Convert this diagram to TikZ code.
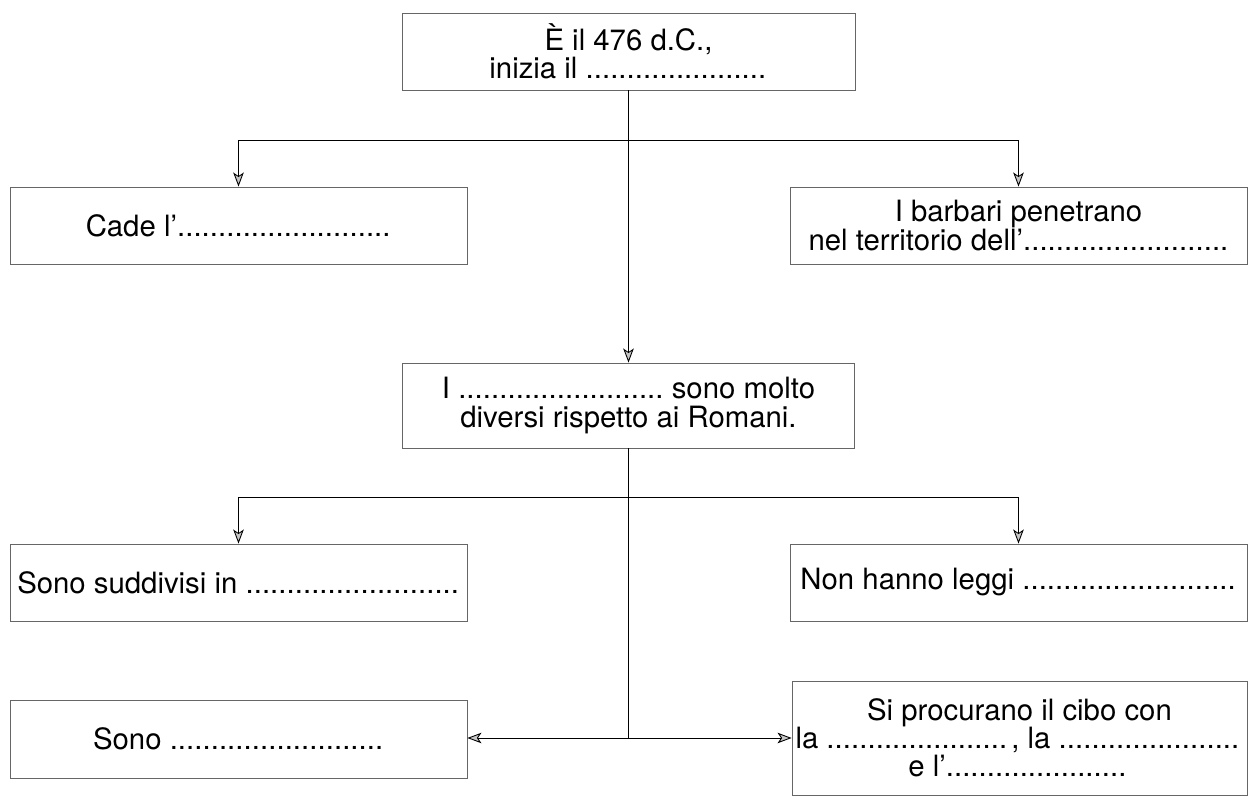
\documentclass[tikz,border=0pt]{standalone}
\usepackage{fontspec}
\setmainfont{TeX Gyre Heros}
\usetikzlibrary{arrows.meta}

% riga di puntini da completare
\newcommand{\puntini}[1][7em]{\makebox[#1]{\leaders\hbox to .28em{\hss.\hss}\hfill}}

\begin{document}
\begin{tikzpicture}[x=0.02cm, y=-0.02cm, line width=0.5pt,
    >={Stealth[length=8pt, width=6pt, inset=2pt, fill=gray!45]},
    casella/.style={draw=black!60, line width=0.5pt, minimum width=9.14cm,
      minimum height=1.54cm, inner sep=0pt, align=center,
      font=\fontsize{16.7}{16}\selectfont}]
    \useasboundingbox (0,0) rectangle (1249,797);

    % Caselle
    \node[casella, minimum width=9.06cm, font=\fontsize{16.7}{12.5}\selectfont] (anno) at (628.5,51.5)
      {È il 476 d.C.,\\ inizia il \puntini[6.2em]};
    \node[casella] (cade) at (238.5,225.5) {Cade l’\puntini[7.3em]};
    \node[casella] (barbari) at (1018.5,225.5) {I barbari penetrano\\ nel territorio dell’\puntini};
    \node[casella, minimum width=9.04cm, minimum height=1.7cm] (popoli) at (628.5,405.5)
      {I \puntini{} sono molto\\ diversi rispetto ai Romani.};
    \node[casella] (gruppi) at (238.5,582.5) {Sono suddivisi in \puntini[7.3em]};
    \node[casella] (leggi) at (1018.5,582.5) {Non hanno leggi \puntini[7.3em]};
    \node[casella, minimum height=1.56cm] (sono) at (238.5,739) {Sono \puntini[7.3em]};
    \node[casella, minimum width=9.1cm, minimum height=2.28cm] (cibo) at (1019.5,738)
      {Si procurano il cibo con\\ la \puntini[6.3em], la \puntini[6.3em]\\ e l’\puntini[6.3em]};

    % Punti di diramazione
    \coordinate (ramo1) at (628.5,140);
    \coordinate (ramo2) at (628.5,497);
    \coordinate (ramo3) at (628.5,738);

    % Collegamenti
    \draw[->] (anno.south) -- (popoli.north);
    \draw[->] (ramo1) -| (cade.north);
    \draw[->] (ramo1) -| (barbari.north);
    \draw (popoli.south) -- (ramo3);
    \draw[->] (ramo2) -| (gruppi.north);
    \draw[->] (ramo2) -| (leggi.north);
    \draw[->] (ramo3) -- (ramo3 -| sono.east);
    \draw[->] (ramo3) -- (cibo.west);
\end{tikzpicture}
\end{document}
